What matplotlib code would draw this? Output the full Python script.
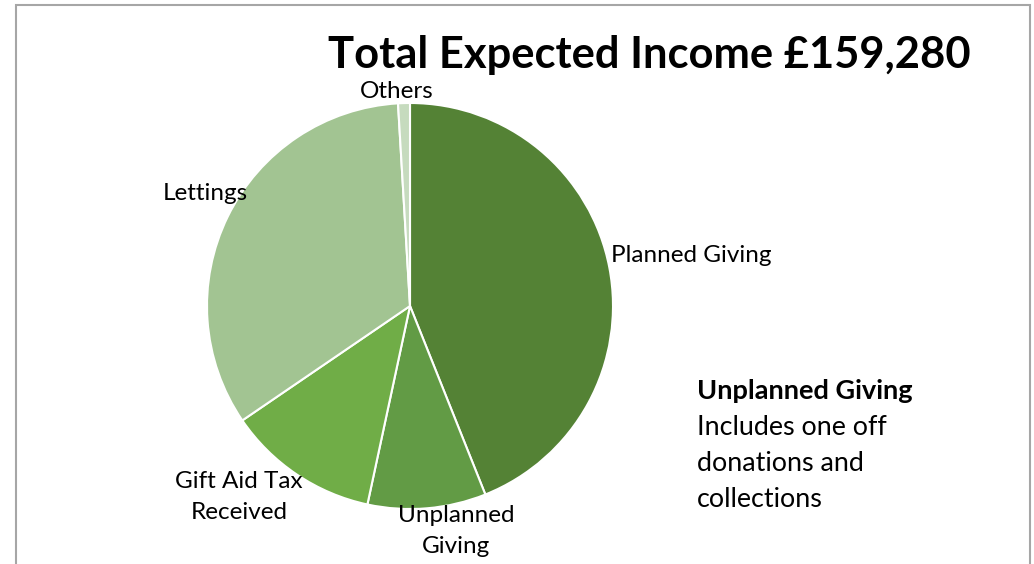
import matplotlib.pyplot as plt
from matplotlib.patches import Rectangle

# Income categories (clockwise from 12 o'clock) and expected amounts in £
categories = ['Planned Giving', 'Unplanned\nGiving', 'Gift Aid Tax\nReceived', 'Lettings', 'Others']
amounts = [70000, 15000, 19280, 53500, 1500]
colors = ['#548235', '#629B45', '#70AD47', '#A2C492', '#C6DBBE']

total = sum(amounts)
title = 'Total Expected Income £{:,}'.format(total)

plt.rcParams['font.family'] = ['Lato', 'DejaVu Sans']

W, H = 1034, 564
fig = plt.figure(figsize=(W / 100, H / 100), dpi=100)

# chart frame
fig.patches.append(Rectangle((15.5 / W, -0.1), (1029.5 - 15.5) / W, 1.1 - 4.5 / H,
                             transform=fig.transFigure, fill=False,
                             edgecolor='#A6A6A6', linewidth=1.5))

# pie axes: centre (410, 306) px, radius 203 px
cx, cy, r = 410, 306, 203
ax = fig.add_axes([(cx - r) / W, (H - cy - r) / H, 2 * r / W, 2 * r / H])
wedges, _ = ax.pie(amounts, colors=colors, startangle=90, counterclock=False,
                   wedgeprops=dict(edgecolor='white', linewidth=1.5))
ax.set_xlim(-1, 1)
ax.set_ylim(-1, 1)
ax.axis('off')

# data labels placed where Excel put them (pixel positions)
label_pos = [(691, 256), (456, 531), (239, 497), (205, 193), (397, 92)]
for lab, (px, py) in zip(categories, label_pos):
    fig.text(px / W, 1 - py / H, lab, ha='center', va='center',
             fontsize=17.5, linespacing=1.55, color='black')

fig.text(649 / W, 1 - 55 / H, title, ha='center', va='center',
         fontsize=31.3, fontweight='bold')

fig.text(697 / W, 1 - 391 / H, 'Unplanned Giving', ha='left', va='center',
         fontsize=19.5, fontweight='bold')
fig.text(697 / W, 1 - 415 / H, 'Includes one off\ndonations and\ncollections',
         ha='left', va='top', fontsize=19.4, linespacing=1.56)

plt.savefig('out.png', dpi=100)
